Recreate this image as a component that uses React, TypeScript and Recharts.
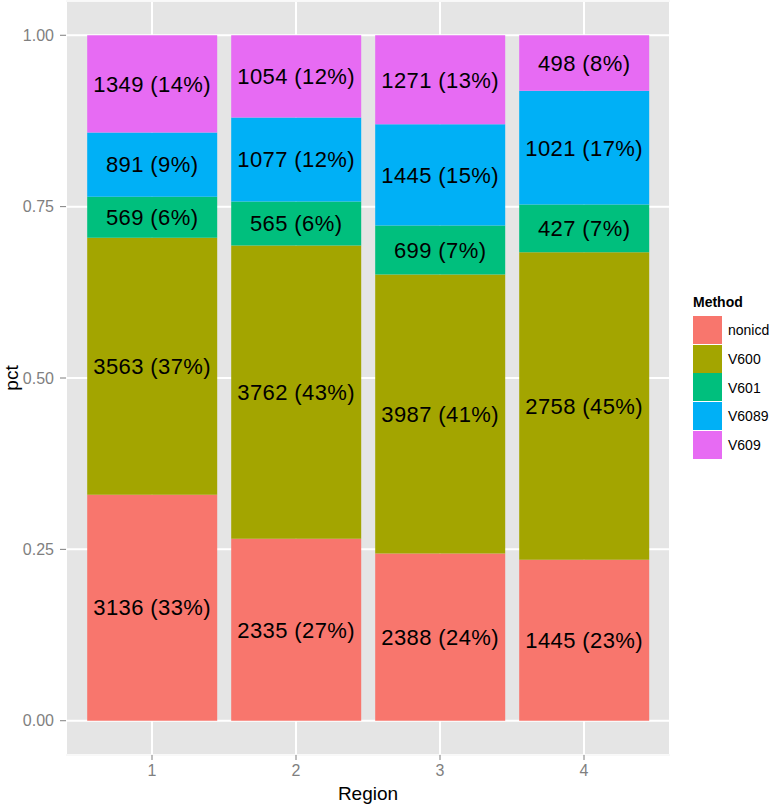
import React from "react";
import {
  BarChart,
  Bar,
  XAxis,
  YAxis,
  CartesianGrid,
  LabelList,
} from "recharts";

const regions = ["1", "2", "3", "4"];
const methods = ["nonicd", "V600", "V601", "V6089", "V609"];
const colors = ["#F8766D", "#A3A500", "#00BF7D", "#00B0F6", "#E76BF3"];

// counts per region
const nonicd = [3136, 2335, 2388, 1445];
const v600 = [3563, 3762, 3987, 2758];
const v601 = [569, 565, 699, 427];
const v6089 = [891, 1077, 1445, 1021];
const v609 = [1349, 1054, 1271, 498];

const yTicks = [0, 0.25, 0.5, 0.75, 1];
const yMinorTicks = [0.125, 0.375, 0.625, 0.875];

const counts = [nonicd, v600, v601, v6089, v609];

const data = regions.map((region, i) => {
  const total = counts.reduce((s, arr) => s + arr[i], 0);
  const row: Record<string, any> = { region };
  methods.forEach((m, k) => {
    const pct = counts[k][i] / total;
    row[m] = pct;
    row[m + "_label"] = `${counts[k][i]} (${Math.round(pct * 100)}%)`;
  });
  return row;
});

const font = "Liberation Sans, Arial, sans-serif";
const tickStyle = { fill: "#7F7F7F", fontSize: 16, fontFamily: font };

function MethodLegend() {
  return (
    <div
      style={{
        position: "absolute",
        left: 693,
        top: 291,
        fontFamily: font,
        color: "#000",
      }}
    >
      <div style={{ fontWeight: "bold", fontSize: 14, height: 22, lineHeight: "22px", marginBottom: 3 }}>
        Method
      </div>
      {methods.map((m, k) => (
        <div key={m} style={{ display: "flex", alignItems: "center", height: 28.7 }}>
          <div
            style={{
              width: 29,
              height: 28,
              background: colors[k],
              borderBottom: "0.7px solid #fff",
            }}
          />
          <span style={{ fontSize: 14, marginLeft: 6 }}>{m}</span>
        </div>
      ))}
    </div>
  );
}

export default function App() {
  return (
    <div style={{ position: "relative", width: 776, height: 806, background: "#fff" }}>
      <style>{"body{margin:0}"}</style>
      <BarChart
        width={776}
        height={806}
        data={data}
        margin={{ top: 1, right: 106, left: 0, bottom: 0 }}
        barCategoryGap="5%"
      >
        <CartesianGrid fill="#E5E5E5" stroke="#FFFFFF" strokeWidth={2} />
        <CartesianGrid yAxisId="minor" vertical={false} stroke="#F2F2F2" strokeWidth={1} />
        <XAxis
          dataKey="region"
          padding={{ left: 14, right: 14 }}
          height={51}
          axisLine={false}
          tickSize={5}
          tickMargin={5}
          tickLine={{ stroke: "#7F7F7F" }}
          tick={tickStyle}
          label={{
            value: "Region",
            position: "insideBottom",
            offset: 6,
            fill: "#000",
            fontSize: 19,
            fontFamily: font,
          }}
        />
        <YAxis
          type="number"
          domain={[-0.05, 1.05]}
          ticks={yTicks}
          tickFormatter={(v: number) => v.toFixed(2)}
          width={66}
          axisLine={false}
          tickSize={6}
          tickMargin={6}
          tickLine={{ stroke: "#7F7F7F" }}
          tick={tickStyle}
          label={{
            content: () => (
              <text
                x={11}
                y={378}
                transform="rotate(-90 11 378)"
                textAnchor="middle"
                dominantBaseline="central"
                fontSize={19}
                fontFamily={font}
                fill="#000"
              >
                pct
              </text>
            ),
          }}
        />
        <YAxis yAxisId="minor" hide type="number" domain={[-0.05, 1.05]} ticks={yMinorTicks} />
        {methods.map((m, k) => (
          <Bar key={m} dataKey={m} stackId="a" fill={colors[k]} isAnimationActive={false}>
            <LabelList
              dataKey={m + "_label"}
              position="center"
              fill="#000"
              fontSize={22}
              fontFamily={font}
              style={{ letterSpacing: "0.4px" }}
            />
          </Bar>
        ))}
      </BarChart>
      <MethodLegend />
    </div>
  );
}
